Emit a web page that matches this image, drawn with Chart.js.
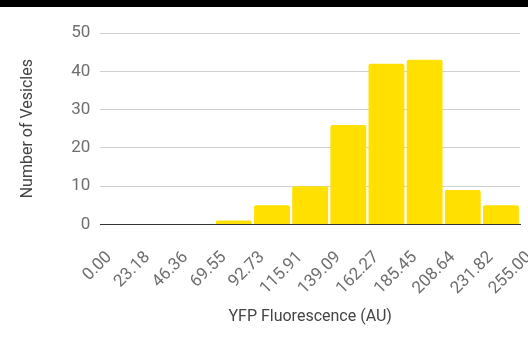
<!DOCTYPE html>
<html lang="en">
  <head>
    <meta charset="UTF-8" />
    <title>YFP Fluorescence Histogram</title>
    <script src="https://cdn.jsdelivr.net/npm/chart.js"></script>
    <style>
      body {
        margin: 0;
        background-color: #fff;
        overflow: hidden;
      }
      #topBar {
        height: 7px;
        background-color: #000;
      }
      #chartContainer {
        position: relative;
        width: 528px;
        height: 330px;
      }
    </style>
  </head>
  <body>
    <div id="topBar"></div>
    <div id="chartContainer">
      <canvas id="histChart"></canvas>
    </div>

    <script>
      // bin edges (AU) and counts per bin
      const binEdges = [0, 23.18, 46.36, 69.55, 92.73, 115.91, 139.09, 162.27, 185.45, 208.64, 231.82, 255];
      const edgeLabels = ["0.00", "23.18", "46.36", "69.55", "92.73", "115.91", "139.09", "162.27", "185.45", "208.64", "231.82", "255.00"];
      const counts = [0, 0, 0, 1, 5, 10, 26, 42, 43, 9, 5];
      const yTicks = [0, 10, 20, 30, 40, 50];

      const points = counts.map((c, i) => ({
        x: (binEdges[i] + binEdges[i + 1]) / 2,
        y: c,
      }));

      const ctx = document.getElementById("histChart").getContext("2d");
      Chart.defaults.font.family = "Roboto, sans-serif";

      new Chart(ctx, {
        type: "bar",
        data: {
          datasets: [
            {
              data: points,
              backgroundColor: "#ffe000",
              borderRadius: 2,
              borderSkipped: "bottom",
              barPercentage: 0.94,
              categoryPercentage: 1,
            },
          ],
        },
        options: {
          responsive: true,
          maintainAspectRatio: false,
          animation: false,
          layout: {
            padding: { left: 14, top: 26, right: 8, bottom: 7 },
          },
          plugins: {
            legend: { display: false },
            tooltip: { enabled: false },
          },
          scales: {
            x: {
              type: "linear",
              offset: false,
              min: binEdges[0],
              max: binEdges[binEdges.length - 1],
              afterBuildTicks: (axis) => {
                axis.ticks = binEdges.map((v) => ({ value: v }));
              },
              // let the last rotated label run off the right edge
              afterFit: (axis) => {
                axis.paddingRight = 0;
              },
              ticks: {
                minRotation: 45,
                maxRotation: 45,
                color: "#6e6e6e",
                font: { size: 17 },
                padding: 15,
                labelOffset: 9,
                callback: (value, index) => edgeLabels[index],
              },
              grid: { display: false },
              border: { display: true, color: "#333", width: 1 },
              title: {
                display: true,
                text: "YFP Fluorescence (AU)",
                color: "#444",
                font: { size: 16 },
                padding: { top: -6, bottom: 3 },
              },
            },
            y: {
              min: 0,
              max: 50,
              afterBuildTicks: (axis) => {
                axis.ticks = yTicks.map((v) => ({ value: v }));
              },
              ticks: {
                color: "#6e6e6e",
                font: { size: 17 },
                padding: 10,
              },
              grid: {
                color: (c) => (c.tick && c.tick.value === 0 ? "#333" : "#d0d0d0"),
                drawTicks: false,
              },
              border: { display: false },
              title: {
                display: true,
                text: "Number of Vesicles",
                color: "#444",
                font: { size: 16 },
                padding: { bottom: 24 },
              },
            },
          },
        },
      });
    </script>
  </body>
</html>
